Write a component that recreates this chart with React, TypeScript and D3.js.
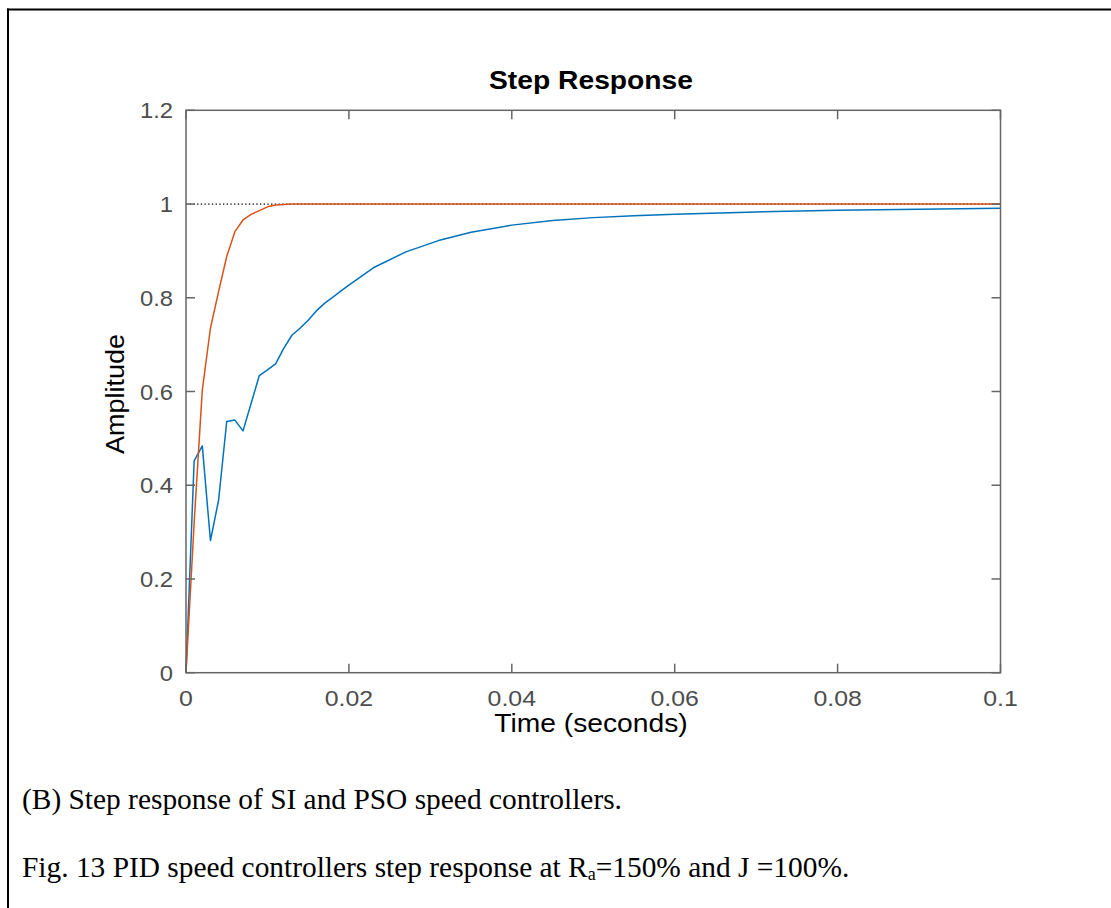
import React from "react";
import * as d3 from "d3";

const blueT = [0, 0.001, 0.002, 0.003, 0.004, 0.005, 0.006, 0.007, 0.008, 0.009, 0.010, 0.011, 0.012, 0.013, 0.014, 0.015, 0.016, 0.017, 0.018, 0.019, 0.020, 0.023, 0.027, 0.031, 0.035, 0.040, 0.045, 0.050, 0.055, 0.060, 0.070, 0.080, 0.090, 0.100];
const blueY = [0, 0.452, 0.484, 0.282, 0.368, 0.536, 0.539, 0.516, 0.575, 0.634, 0.646, 0.659, 0.692, 0.720, 0.735, 0.752, 0.772, 0.788, 0.801, 0.814, 0.827, 0.864, 0.898, 0.922, 0.940, 0.955, 0.965, 0.971, 0.975, 0.978, 0.983, 0.987, 0.989, 0.991];

const orangeT = [0, 0.001, 0.002, 0.003, 0.004, 0.005, 0.006, 0.007, 0.008, 0.009, 0.010, 0.011, 0.012, 0.013, 0.015, 0.020, 0.050, 0.100];
const orangeY = [0, 0.32, 0.603, 0.735, 0.813, 0.888, 0.941, 0.966, 0.978, 0.986, 0.994, 0.998, 0.999, 1.0, 1.0, 1.0, 1.0, 1.0];

const xTicks = [0, 0.02, 0.04, 0.06, 0.08, 0.1];
const xTickLabels = ["0", "0.02", "0.04", "0.06", "0.08", "0.1"];
const yTicks = [0, 0.2, 0.4, 0.6, 0.8, 1.0, 1.2];
const yTickLabels = ["0", "0.2", "0.4", "0.6", "0.8", "1", "1.2"];

const title = "Step Response";
const xLabel = "Time (seconds)";
const yLabel = "Amplitude";
const caption1 = "(B) Step response of SI and PSO speed controllers.";

export default function App() {
  const W = 1111, H = 908;
  const left = 186, right = 1000.5, top = 110.3, bottom = 672.7;
  const x = d3.scaleLinear().domain([0, 0.1]).range([left, right]);
  const y = d3.scaleLinear().domain([0, 1.2]).range([bottom, top]);

  const line = d3.line<[number, number]>().x(d => x(d[0])).y(d => y(d[1]));
  const blue = line(blueT.map((t, i) => [t, blueY[i]] as [number, number]));
  const orange = line(orangeT.map((t, i) => [t, orangeY[i]] as [number, number]));

  const axisColor = "#666666";
  const textColor = "#4d4d4d";
  const sans = "Liberation Sans, Arial, Helvetica, sans-serif";
  const serif = "Liberation Serif, Times New Roman, serif";
  const tickLen = 9;
  const sx = 1.13;

  return (
    <svg width={W} height={H} style={{ position: "absolute", left: 0, top: 0, background: "#fff" }}>
      {/* outer frame */}
      <line x1={7} x2={W} y1={9.5} y2={9.5} stroke="#000" strokeWidth={2} />
      <line x1={8} x2={8} y1={8.5} y2={H} stroke="#000" strokeWidth={2} />

      {/* dotted reference */}
      <line x1={x(0)} x2={x(0.1)} y1={y(1)} y2={y(1)} stroke="#000" strokeWidth={1.2} strokeDasharray="1.3 2.4" />

      {/* curves */}
      <path d={blue || ""} fill="none" stroke="#0072BD" strokeWidth={1.5} strokeLinejoin="round" />
      <path d={orange || ""} fill="none" stroke="#D95319" strokeWidth={1.5} strokeLinejoin="round" />

      {/* axes box */}
      <rect x={left} y={top} width={right - left} height={bottom - top} fill="none" stroke={axisColor} strokeWidth={1.5} />

      {/* x ticks */}
      {xTicks.map((t, i) => (
        <g key={"xt" + i}>
          <line x1={x(t)} x2={x(t)} y1={bottom} y2={bottom - tickLen} stroke={axisColor} strokeWidth={1.5} />
          <line x1={x(t)} x2={x(t)} y1={top} y2={top + tickLen} stroke={axisColor} strokeWidth={1.5} />
          <text transform={`translate(${x(t)},${bottom + 33}) scale(${sx},1)`} textAnchor="middle" fontFamily={sans} fontSize={22} fill={textColor}>
            {xTickLabels[i]}
          </text>
        </g>
      ))}

      {/* y ticks */}
      {yTicks.map((v, i) => (
        <g key={"yt" + i}>
          <line x1={left} x2={left + tickLen} y1={y(v)} y2={y(v)} stroke={axisColor} strokeWidth={1.5} />
          <line x1={right} x2={right - tickLen} y1={y(v)} y2={y(v)} stroke={axisColor} strokeWidth={1.5} />
          <text transform={`translate(${left - 13},${y(v) + 8}) scale(1.08,1)`} textAnchor="end" fontFamily={sans} fontSize={22} fill={textColor}>
            {yTickLabels[i]}
          </text>
        </g>
      ))}

      {/* title */}
      <text transform={`translate(${591},${89}) scale(${sx},1)`} textAnchor="middle" fontFamily={sans} fontWeight="bold" fontSize={25} fill="#000">
        {title}
      </text>

      {/* x label */}
      <text transform={`translate(${591},${732}) scale(${sx},1)`} textAnchor="middle" fontFamily={sans} fontSize={25} fill="#000">
        {xLabel}
      </text>

      {/* y label */}
      <text transform={`translate(${124},${394}) rotate(-90) scale(1.08,1)`} textAnchor="middle" fontFamily={sans} fontSize={25} fill="#000">
        {yLabel}
      </text>

      {/* captions */}
      <text x={22} y={809} fontFamily={serif} fontSize={29.4} fill="#000">
        {caption1}
      </text>
      <text x={22} y={877} fontFamily={serif} fontSize={29.4} fill="#000">
        Fig. 13 PID speed controllers step response at R
        <tspan fontSize={18} dy={3}>a</tspan>
        <tspan dy={-3}>=150% and J =100%.</tspan>
      </text>
    </svg>
  );
}
